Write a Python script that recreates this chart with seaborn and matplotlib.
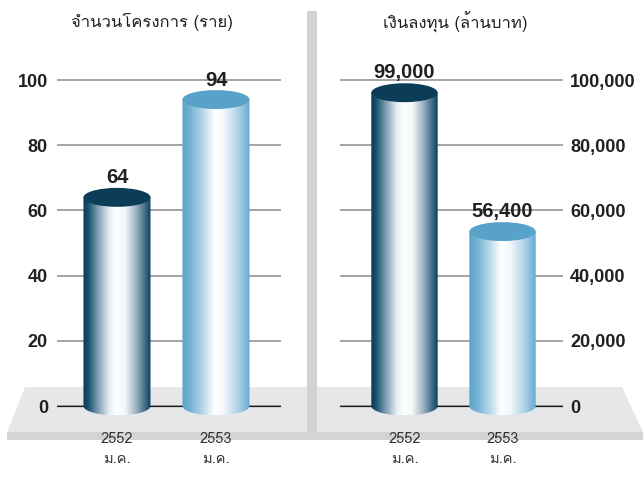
import numpy as np
import seaborn as sns
import matplotlib
matplotlib.use("Agg")
import matplotlib.pyplot as plt
from matplotlib import font_manager
from matplotlib.ft2font import FT2Font
from matplotlib.colors import LinearSegmentedColormap
from matplotlib.patches import Ellipse, PathPatch, Polygon, Rectangle
from matplotlib.path import Path

# ---- data -------------------------------------------------------------
years = ["2552", "2553"]
month = "ม.ค."
projects = [64, 94]
investment = [99000, 56400]
project_ticks = [0, 20, 40, 60, 80, 100]
investment_ticks = [0, 20000, 40000, 60000, 80000, 100000]
title_projects = "จำนวนโครงการ (ราย)"
title_investment = "เงินลงทุน (ล้านบาท)"

# ---- style ------------------------------------------------------------
W, H, DPI = 643, 486, 100
BAR_WIDTH = 0.677
TEXT = "#231f20"


def find_thai_family():
    found = []
    for entry in font_manager.fontManager.ttflist:
        try:
            cmap = FT2Font(entry.fname).get_charmap()
        except Exception:
            continue
        if 0x0E01 in cmap and 0x0E33 in cmap and entry.name not in found:
            found.append(entry.name)
    plain = [n for n in found if "Mono" not in n and "Serif" not in n]
    pool = plain or found
    return pool[0] if pool else "DejaVu Sans"


sns.set_style("white")
thai = find_thai_family()
plt.rcParams["font.family"] = ["Liberation Sans", "DejaVu Sans"]
THAI_FAMILY = [thai, "Liberation Sans", "DejaVu Sans"]

dark_cmap = LinearSegmentedColormap.from_list(
    "dark_cyl",
    [(0.0, "#0a3954"), (0.08, "#1b5370"), (0.22, "#7e9db1"), (0.38, "#e4ecf1"),
     (0.48, "#ffffff"), (0.62, "#f4f7f9"), (0.78, "#9db4c3"), (0.92, "#3d6a84"),
     (1.0, "#0b3f5c")])
light_cmap = LinearSegmentedColormap.from_list(
    "light_cyl",
    [(0.0, "#5aa3ca"), (0.12, "#75b3d4"), (0.32, "#bcdaea"), (0.48, "#ffffff"),
     (0.62, "#f2f8fb"), (0.82, "#b2d4e7"), (1.0, "#64aad0")])
palettes = [dark_cmap, light_cmap]
cap_colors = ["#0b3c58", "#58a2c9"]


def fx(x):
    return x / W


def fy(y):
    return 1 - y / H


fig = plt.figure(figsize=(W / DPI, H / DPI), dpi=DPI)

# floor slab and divider
floor = Polygon([(fx(25), fy(387)), (fx(622), fy(387)), (fx(643), fy(432)), (fx(7), fy(432))],
                closed=True, transform=fig.transFigure, facecolor="#e6e7e8",
                edgecolor="none", zorder=-2)
fig.add_artist(floor)
fig.add_artist(Rectangle((fx(7), fy(440)), fx(636), fy(432) - fy(440),
                         transform=fig.transFigure, facecolor="#d3d4d6",
                         edgecolor="none", zorder=-2))
fig.add_artist(Rectangle((fx(307), fy(432)), fx(10), fy(11) - fy(432),
                         transform=fig.transFigure, facecolor="#d1d2d4",
                         edgecolor="none", zorder=-1))

# axes: value 0 at y=406px, top tick at y=80px
y_bottom_px, y_top_px = 419.04, 47.4
ax_b = fy(y_bottom_px)
ax_h = fy(y_top_px) - ax_b
ax_left = fig.add_axes([fx(57), ax_b, fx(224), ax_h])
ax_right = fig.add_axes([fx(340), ax_b, fx(223), ax_h])


def draw_panel(ax, values, ymax, ticks, labels, xlim, side, cap_anchor, label_offset):
    """Cylinders built on seaborn bars; cap_anchor says whether the value sits
    at the centre or the upper rim of the top ellipse."""
    ax.set_facecolor("none")
    sns.barplot(x=years, y=values, ax=ax, width=BAR_WIDTH, color="white", linewidth=0)
    ylim = (-0.04 * ymax, 1.10 * ymax)
    e = 0.058 * ymax
    bars = list(ax.patches)
    for patch, cmap, cap, val in zip(bars, palettes, cap_colors, values):
        x0, w, v = patch.get_x(), patch.get_width(), patch.get_height()
        patch.set_visible(False)
        h = v - e / 2 if cap_anchor == "top" else v
        cx = x0 + w / 2
        t = np.linspace(0, np.pi, 80)
        arc = np.column_stack([cx - w / 2 * np.cos(t), -e / 2 * np.sin(t)])
        verts = np.vstack([[x0, h], [x0, 0], arc, [x0 + w, 0], [x0 + w, h], [x0, h]])
        codes = [Path.MOVETO] + [Path.LINETO] * (len(verts) - 2) + [Path.CLOSEPOLY]
        body = PathPatch(Path(verts, codes), facecolor="none", edgecolor="none")
        ax.add_patch(body)
        grad = np.linspace(0, 1, 256).reshape(1, -1)
        im = ax.imshow(grad, cmap=cmap, extent=[x0, x0 + w, -e / 2, h],
                       aspect="auto", interpolation="bicubic", zorder=2)
        im.set_clip_path(body)
        ax.add_patch(Ellipse((cx, h), w, e, facecolor=cap, edgecolor="none", zorder=3))
        ax.annotate(f"{val:,}", xy=(cx, v), xytext=(0, label_offset), textcoords="offset points",
                    ha="center", va="baseline", fontsize=14.5, fontweight="bold",
                    color=TEXT, zorder=5)

    ax.set_xlim(*xlim)
    ax.set_ylim(*ylim)
    ax.set_yticks(ticks)
    ax.set_yticklabels(labels)
    ax.yaxis.grid(True, color="#8c8c8c", linewidth=1.1)
    ax.xaxis.grid(False)
    ax.set_axisbelow(True)
    ax.axhline(0, color="#1a1a1a", linewidth=0.9, zorder=1)
    for s in ax.spines.values():
        s.set_visible(False)
    ax.set_xlabel("")
    ax.set_ylabel("")
    ax.set_xticks(range(len(years)))
    ax.set_xticklabels([f"{y}\n{month}" for y in years], family=THAI_FAMILY,
                       fontsize=10.5, color="#333333", linespacing=1.6)
    ax.tick_params(axis="x", length=0, pad=9)
    if side == "right":
        ax.yaxis.tick_right()
        ax.tick_params(axis="y", length=0, pad=5)
    else:
        ax.tick_params(axis="y", length=0, pad=6.5)
    for lab in ax.get_yticklabels():
        lab.set_fontsize(13)
        lab.set_fontweight("bold")
        lab.set_color(TEXT)


draw_panel(ax_left, projects, 100, project_ticks, [str(v) for v in project_ticks],
           (-0.606, 1.657), "left", "center", 10)
draw_panel(ax_right, investment, 100000, investment_ticks,
           [f"{v:,}" for v in investment_ticks], (-0.658, 1.617), "right", "top", 4)

fig.text(fx(152), fy(22), title_projects, ha="center", va="center",
         family=THAI_FAMILY, fontsize=12, color=TEXT)
fig.text(fx(455), fy(22), title_investment, ha="center", va="center",
         family=THAI_FAMILY, fontsize=12, color=TEXT)

fig.savefig("out.png", dpi=DPI)
